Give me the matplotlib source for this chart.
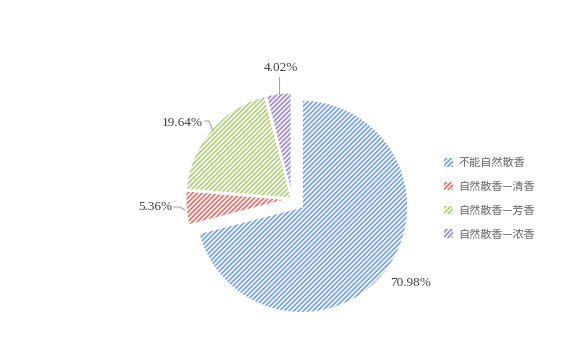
import matplotlib
matplotlib.use("Agg")
from matplotlib import pyplot as plt
from matplotlib.patches import Patch

categorias = ["不能自然散香", "自然散香—清香", "自然散香—芳香", "自然散香—浓香"]
percentuais = [70.98, 5.36, 19.64, 4.02]
rotulos = ["70.98%", "5.36%", "19.64%", "4.02%"]

cores = ["#6a95cf", "#d06563", "#a9c671", "#9680b8"]
cores_claras = ["#e6eef8", "#f7e4e3", "#f0f5e6", "#ece7f2"]
explode = [12, 0, 0, 0]  # em unidades de dados (pixels)

plt.rcParams["hatch.linewidth"] = 0.9

fig = plt.figure(figsize=(5.85, 3.44), dpi=100)
ax = fig.add_axes([0, 0, 1, 1])

centro = (292, 145)
raio = 107

# camada com hachura (cor da hachura = edgecolor)
fatias, _ = ax.pie(percentuais, startangle=90, counterclock=False, radius=raio,
                   center=centro, explode=explode, colors=cores_claras,
                   wedgeprops=dict(linewidth=0))
for w, c in zip(fatias, cores):
    w.set_edgecolor(c)
    w.set_hatch("///////")
    w.set_linewidth(0)

# contorno branco por cima
ax.pie(percentuais, startangle=90, counterclock=False, radius=raio,
       center=centro, explode=explode,
       wedgeprops=dict(facecolor="none", edgecolor="white", linewidth=2))

# rótulos e linhas de chamada
fonte_num = dict(family="Liberation Serif", fontsize=9.5, color="#404040")
ax.text(411, 344 - 283, rotulos[0], ha="center", va="center", **fonte_num)
ax.text(172, 344 - 207, rotulos[1], ha="right", va="center", **fonte_num)
ax.plot([174, 180, 185], [344 - 207, 344 - 207, 344 - 210], color="#a6a6a6", lw=0.8)
ax.text(203, 344 - 123, rotulos[2], ha="right", va="center", **fonte_num)
ax.plot([205, 209, 213], [344 - 121, 344 - 121, 344 - 131], color="#a6a6a6", lw=0.8)
ax.text(281, 344 - 68, rotulos[3], ha="center", va="center", **fonte_num)
ax.plot([279, 279], [344 - 77, 344 - 94], color="#a6a6a6", lw=0.8)

handles = [Patch(facecolor=cl, edgecolor=c, hatch="///////", linewidth=0)
           for cl, c in zip(cores_claras, cores)]
leg = ax.legend(handles, categorias, loc="upper left", bbox_to_anchor=(434, 344 - 148),
                bbox_transform=ax.transData, frameon=False, handlelength=0.8,
                handleheight=0.8, handletextpad=0.5, labelspacing=1.2,
                prop=dict(family="Noto Sans CJK SC", size=8))
for t in leg.get_texts():
    t.set_color("#666666")

ax.set_xlim(0, 585)
ax.set_ylim(0, 344)
ax.set_aspect("equal")
ax.axis("off")

fig.savefig("out.png", dpi=100)
